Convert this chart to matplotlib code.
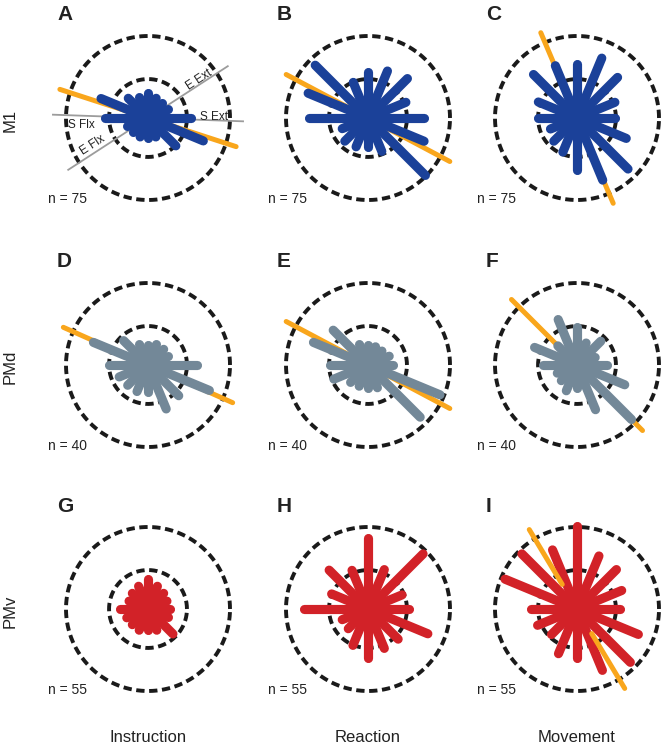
import numpy as np
import matplotlib
matplotlib.use('Agg')
import matplotlib.pyplot as plt

plt.rcParams['font.family'] = ['Liberation Sans', 'DejaVu Sans']
plt.rcParams['lines.scale_dashes'] = False

# bin directions (deg) of the rose plots
angles = [0, 22.5, 45, 67.5, 90, 112.5, 135, 157.5,
          180, 202.5, 225, 247.5, 270, 292.5, 315, 337.5]

# spoke lengths, outer dashed ring = 1
len_A = [0.52, 0.27, 0.25, 0.26, 0.30, 0.27, 0.34, 0.62, 0.52, 0.27, 0.25, 0.25, 0.24, 0.25, 0.48, 0.73]
len_B = [0.68, 0.50, 0.68, 0.62, 0.56, 0.47, 0.91, 0.79, 0.72, 0.34, 0.40, 0.38, 0.35, 0.44, 0.99, 0.74]
len_C = [0.46, 0.50, 0.70, 0.79, 0.66, 0.69, 0.75, 0.51, 0.48, 0.35, 0.40, 0.45, 0.64, 0.82, 0.88, 0.65]
len_D = [0.60, 0.27, 0.27, 0.27, 0.25, 0.27, 0.42, 0.72, 0.48, 0.38, 0.35, 0.35, 0.33, 0.58, 0.53, 0.81]
len_E = [0.30, 0.28, 0.24, 0.24, 0.25, 0.27, 0.60, 0.72, 0.46, 0.45, 0.30, 0.28, 0.28, 0.30, 0.90, 0.95]
len_F = [0.36, 0.24, 0.41, 0.29, 0.46, 0.60, 0.33, 0.56, 0.42, 0.26, 0.27, 0.34, 0.28, 0.59, 0.94, 0.63]
len_G = [0.27, 0.25, 0.27, 0.30, 0.36, 0.30, 0.27, 0.25, 0.34, 0.28, 0.27, 0.28, 0.26, 0.28, 0.43, 0.27]
len_H = [0.50, 0.45, 0.95, 0.52, 0.86, 0.51, 0.67, 0.48, 0.78, 0.34, 0.34, 0.48, 0.60, 0.52, 0.52, 0.79]
len_I = [0.52, 0.59, 0.68, 0.70, 1.01, 0.78, 0.95, 0.95, 0.56, 0.52, 0.44, 0.59, 0.60, 0.81, 0.92, 0.81]

# axis of the bimodal distribution (deg), None = not significant
axis_deg = [162, 152, 113, 156, 152, 135, None, None, 121]

letters = ['A', 'B', 'C', 'D', 'E', 'F', 'G', 'H', 'I']
areas = ['M1', 'PMd', 'PMv']
epochs = ['Instruction', 'Reaction', 'Movement']
n_cells = [75, 40, 55]

area_colors = ['#1b4199', '#738898', '#d22228']
axis_color = '#f9a61c'
ring_color = '#1a1a1a'

all_len = [len_A, len_B, len_C, len_D, len_E, len_F, len_G, len_H, len_I]

W, H = 664, 750
fig = plt.figure(figsize=(W / 100, H / 100), dpi=100)

col_x = [148, 368, 577]
row_y = [118, 365, 609]
R = 82.0          # pixels of outer ring
rmax = 1.25
half = R * rmax

th_ring = np.linspace(0, 2 * np.pi, 400)

for i in range(3):
    for j in range(3):
        k = i * 3 + j
        cx, cy = col_x[j], row_y[i]
        ax = fig.add_axes([(cx - half) / W, (H - cy - half) / H, 2 * half / W, 2 * half / H],
                          projection='polar')
        ax.set_axis_off()
        ax.set_ylim(0, rmax)

        # dashed rings
        ax.plot(th_ring, np.full_like(th_ring, 1.0), color=ring_color, lw=2.8,
                dashes=(6.0, 3.3), zorder=1)
        ax.plot(th_ring, np.full_like(th_ring, 0.475), color=ring_color, lw=2.8,
                dashes=(6.0, 3.3), zorder=1)

        # joint axes in panel A
        if k == 0:
            for a_deg in [178, 33]:
                t = np.deg2rad(a_deg)
                ax.plot([t, t + np.pi], [1.16, 1.16], color='#9c9c9c', lw=1.3, zorder=2)
            ax.text(np.deg2rad(1), 0.80, 'S Ext', fontsize=8.5, ha='center', va='center', color='#222222')
            ax.text(np.deg2rad(186.4), 0.82, 'S Flx', fontsize=8.5, ha='center', va='center', color='#222222')
            ax.text(np.deg2rad(36.7), 0.78, 'E Ext', fontsize=8.5, ha='center', va='center',
                    rotation=33, rotation_mode='anchor', color='#222222')
            ax.text(np.deg2rad(206), 0.75, 'E Flx', fontsize=8.5, ha='center', va='center',
                    rotation=33, rotation_mode='anchor', color='#222222')

        a = axis_deg[k]
        if a is not None:
            t = np.deg2rad(a)
            if k == 8:
                for tt in [t, t + np.pi]:
                    ax.plot([tt, tt], [0.35, 1.13], color=axis_color, lw=3.6,
                            solid_capstyle='round', zorder=5)
            else:
                ax.plot([t, t + np.pi], [1.13, 1.13], color=axis_color, lw=3.6,
                        solid_capstyle='round', zorder=3)

        for ang, ln in zip(angles, all_len[k]):
            t = np.deg2rad(ang)
            ax.plot([t, t], [0, ln], color=area_colors[i], lw=6.6,
                    solid_capstyle='round', zorder=4)

        fig.text((cx - 91) / W, 1 - (cy - 103) / H, letters[k], fontsize=15,
                 fontweight='bold', ha='left', va='center', color='#222222')
        fig.text((cx - 100) / W, 1 - (cy + 81) / H, 'n = %d' % n_cells[i], fontsize=10,
                 ha='left', va='center', color='#222222')

for i, name in enumerate(areas):
    fig.text(10 / W, 1 - (row_y[i] + 2) / H, name, fontsize=12, rotation=90,
             ha='center', va='center', color='#222222')
for j, name in enumerate(epochs):
    fig.text(col_x[j] / W, 1 - 738 / H, name, fontsize=12, ha='center', va='center',
             color='#222222')

fig.savefig('out.png', dpi=100)
